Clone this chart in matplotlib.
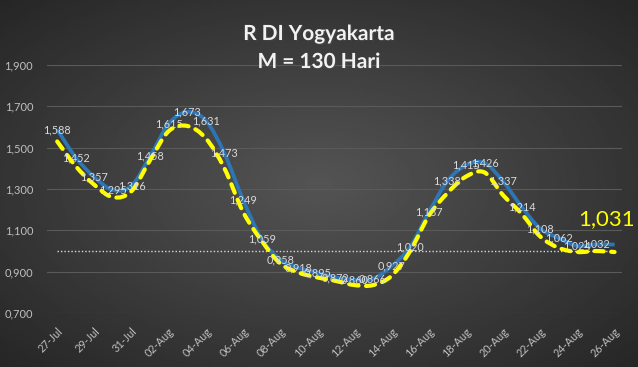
import numpy as np
import matplotlib
matplotlib.use("Agg")
import matplotlib.pyplot as plt
from matplotlib.path import Path
from matplotlib.patches import PathPatch
import matplotlib.patheffects as pe

plt.rcParams['font.family'] = ['Lato', 'DejaVu Sans']

# daily dates 27-Jul .. 26-Aug
dates = ["27-Jul", "28-Jul", "29-Jul", "30-Jul", "31-Jul",
         "01-Aug", "02-Aug", "03-Aug", "04-Aug", "05-Aug", "06-Aug", "07-Aug", "08-Aug",
         "09-Aug", "10-Aug", "11-Aug", "12-Aug", "13-Aug", "14-Aug", "15-Aug", "16-Aug",
         "17-Aug", "18-Aug", "19-Aug", "20-Aug", "21-Aug", "22-Aug", "23-Aug", "24-Aug",
         "25-Aug", "26-Aug"]

r_value = [1.588, 1.452, 1.357, 1.295, 1.316, 1.458, 1.615, 1.673, 1.631, 1.473,
           1.249, 1.059, 0.958, 0.918, 0.895, 0.872, 0.860, 0.866, 0.927, 1.020,
           1.187, 1.338, 1.415, 1.426, 1.337, 1.214, 1.108, 1.062, 1.024, 1.032,
           1.031]

r_trend = [1.53, 1.41, 1.32, 1.26, 1.29, 1.44, 1.58, 1.605, 1.545, 1.40,
           1.19, 1.05, 0.94, 0.895, 0.872, 0.855, 0.835, 0.835, 0.88, 1.00,
           1.17, 1.28, 1.36, 1.38, 1.27, 1.18, 1.07, 1.015, 0.995, 1.0,
           0.995]

r_threshold = 1.0
y_ticks = [0.7, 0.9, 1.1, 1.3, 1.5, 1.7, 1.9]
title = "R DI Yogyakarta\nM = 130 Hari"


def smooth_path(x, y):
    # excel-like smoothed line as cubic bezier segments
    x = np.asarray(x, float)
    y = np.asarray(y, float)
    verts = [(x[0], y[0])]
    codes = [Path.MOVETO]
    n = len(x)
    for i in range(n - 1):
        x0, y0 = (x[i - 1], y[i - 1]) if i > 0 else (x[i], y[i])
        x3, y3 = (x[i + 2], y[i + 2]) if i + 2 < n else (x[i + 1], y[i + 1])
        c1 = (x[i] + (x[i + 1] - x0) / 6, y[i] + (y[i + 1] - y0) / 6)
        c2 = (x[i + 1] - (x3 - x[i]) / 6, y[i + 1] - (y3 - y[i]) / 6)
        verts += [c1, c2, (x[i + 1], y[i + 1])]
        codes += [Path.CURVE4] * 3
    return Path(verts, codes)


fig = plt.figure(figsize=(6.38, 3.67), dpi=100)

# dark radial background
bg = fig.add_axes([0, 0, 1, 1], zorder=-10)
yy, xx = np.mgrid[-1:1:200j, -1:1:350j]
rr = np.sqrt(xx ** 2 + yy ** 2) / np.sqrt(2)
bg.imshow(0.33 - 0.18 * rr, cmap='gray', vmin=0, vmax=1, aspect='auto',
          extent=[0, 1, 0, 1])
bg.axis('off')

ax = fig.add_axes([47 / 638, 1 - 313 / 367, 575 / 638, 248 / 367])
ax.patch.set_alpha(0)

days = np.arange(len(dates))

ax.hlines(r_threshold, days[0], days[-1], colors='#d9d9d9', linestyles=(0, (1, 1.5)),
          linewidth=1, zorder=2)

blue = PathPatch(smooth_path(days, r_value), fill=False, edgecolor='#2e75b6',
                 linewidth=2.7, zorder=3)
ax.add_patch(blue)

yellow = PathPatch(smooth_path(days, r_trend), fill=False, edgecolor='#ffff00',
                   linewidth=3, linestyle=(0, (2.2, 1.8)), zorder=4, capstyle='round')
ax.add_patch(yellow)

for d, v in zip(days[:-1], r_value[:-1]):
    ax.text(d, v, f"{v:.3f}".replace('.', ','), ha='center', va='center',
            fontsize=7.8, color='#d9d9d9', zorder=5)

ax.annotate(f"{r_value[-1]:.3f}".replace('.', ','), (days[-1], r_value[-1]),
            xytext=(-6, 18), textcoords='offset points', ha='center', va='center',
            fontsize=16, color='#ffff00', zorder=6)

ax.set_xlim(-0.55, 30.4)
ax.set_ylim(0.7, 1.9)
ax.set_yticks(y_ticks)
ax.set_yticklabels([f"{v:.3f}".replace('.', ',') for v in y_ticks])
ax.set_xticks(days[::2])
ax.set_xticklabels(dates[::2], rotation=45, ha='right', rotation_mode='anchor')
ax.tick_params(axis='y', length=0, pad=10, labelsize=8, labelcolor='#bfbfbf')
ax.tick_params(axis='x', length=0, pad=9, labelsize=7.8, labelcolor='#bfbfbf')
ax.grid(axis='y', color='#5a5a5a', linewidth=0.8)
ax.set_axisbelow(True)
for s in ax.spines.values():
    s.set_visible(False)

fig.text(0.5, 1 - 48 / 367, title, ha='center', va='center', fontsize=15,
         fontweight='bold', color='#f2f2f2', linespacing=1.5,
         path_effects=[pe.withSimplePatchShadow(offset=(1, -1), alpha=0.5)])

fig.savefig("out.png", dpi=100)
